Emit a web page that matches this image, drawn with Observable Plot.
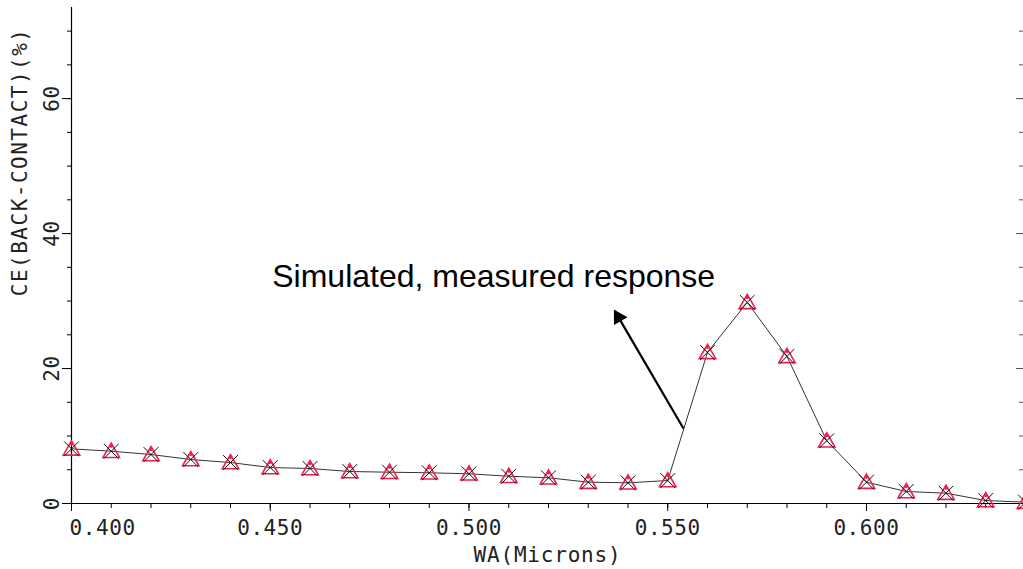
<!DOCTYPE html>
<html><head><meta charset="utf-8">
<script src="https://cdn.jsdelivr.net/npm/d3@7"></script>
<script src="https://cdn.jsdelivr.net/npm/@observablehq/plot@0.6"></script>
<style>
body{margin:0;background:#fff;overflow:hidden}
text[aria-label="xlabel"]{letter-spacing:0.6px}
text[aria-label="ylabel"]{letter-spacing:0.6px}
text[aria-label="xtitle"]{letter-spacing:0.8px}
text[aria-label="ytitle"]{letter-spacing:1.5px}
</style>
</head><body><div id="chart"></div>
<script>
const wavelength = [0.40,0.41,0.42,0.43,0.44,0.45,0.46,0.47,0.48,0.49,0.50,0.51,0.52,0.53,0.54,0.55,0.56,0.57,0.58,0.59,0.60,0.61,0.62,0.63,0.64];
const simulated = [8.1,7.75,7.26,6.52,6.07,5.33,5.19,4.74,4.64,4.55,4.4,4.04,3.81,3.16,3.07,3.4,22.4,29.8,21.8,9.3,3.16,1.78,1.53,0.44,0.2];
const measured  = [8.1,7.75,7.26,6.52,6.07,5.33,5.19,4.74,4.64,4.55,4.4,4.04,3.81,3.16,3.07,3.4,22.4,29.8,21.8,9.3,3.16,1.78,1.53,0.44,0.2];
const xMajorTicks = [0.40,0.45,0.50,0.55,0.60];
const xMinorTicks = wavelength;
const yMajorTicks = [0,20,40,60];
const yMinorTicks = [0,5,10,15,20,25,30,35,40,45,50,55,60,65,70];
const xTitle = ["WA(Microns)"];
const yTitle = ["CE(BACK-CONTACT)(%)"];
const annotation = [{x:0.4505, y:33.6, text:"Simulated, measured response"}];
const arrowLine = [{x1:0.55396, y1:11.11, x2:0.5378, y2:27.4}];
const arrowHead = [{x:0.5376, y:27.6}];

const simData = wavelength.map((w,i)=>({w, v: simulated[i]}));
const measData = wavelength.map((w,i)=>({w, v: measured[i]}));
const mono = "DejaVu Sans Mono";
const fmt = d3.format(".3f");
const firstXLabel = xMajorTicks.slice(0,1);
const otherXLabels = xMajorTicks.slice(1);

const chart = Plot.plot({
  width: 1023, height: 569,
  marginLeft: 71, marginRight: 0, marginTop: 7, marginBottom: 66,
  style: {background:"#fff", color:"#000", fontFamily: mono, overflow:"hidden"},
  x: {domain:[0.4, 0.6395]},
  y: {domain:[0, 73.5]},
  marks: [
    Plot.axisX(xMinorTicks, {tickSize:5, tickFormat:()=>"", label:null}),
    Plot.axisX(xMajorTicks, {tickSize:8, tickFormat:()=>"", label:null}),
    Plot.text(firstXLabel, {x:d=>d, text:d=>fmt(d), frameAnchor:"bottom", dy:25, textAnchor:"start", dx:-2, lineAnchor:"middle", fontSize:21, fontFamily:mono, fill:"#222", ariaLabel:()=>"xlabel"}),
    Plot.text(otherXLabels, {x:d=>d, text:d=>fmt(d), frameAnchor:"bottom", dy:25, textAnchor:"middle", lineAnchor:"middle", fontSize:21, fontFamily:mono, fill:"#222", ariaLabel:()=>"xlabel"}),
    Plot.axisY(yMinorTicks, {tickSize:4, tickFormat:()=>"", label:null}),
    Plot.axisY(yMajorTicks, {tickSize:9, tickFormat:()=>"", label:null}),
    Plot.axisY(yMinorTicks, {anchor:"right", tickSize:-5, tickFormat:()=>"", label:null, stroke:"#555"}),
    Plot.axisY(yMajorTicks, {anchor:"right", tickSize:-8, tickFormat:()=>"", label:null, stroke:"#555"}),
    Plot.text(yMajorTicks, {y:d=>d, text:d=>String(d), frameAnchor:"left", dx:-19.5, rotate:-90, textAnchor:"middle", lineAnchor:"middle", fontSize:21, fontFamily:mono, fill:"#222", ariaLabel:()=>"ylabel"}),
    Plot.text(xTitle, {text:d=>d, frameAnchor:"bottom", dy:52, lineAnchor:"middle", fontSize:21, fontFamily:mono, fill:"#222", ariaLabel:()=>"xtitle"}),
    Plot.text(yTitle, {text:d=>d, frameAnchor:"top-left", dx:-51, dy:20, rotate:-90, textAnchor:"end", lineAnchor:"middle", fontSize:21, fontFamily:mono, fill:"#222", ariaLabel:()=>"ytitle"}),
    Plot.ruleY([0], {stroke:"#000", strokeWidth:1.2}),
    Plot.ruleX([0.4], {stroke:"#000", strokeWidth:1.2}),
    Plot.line(simData, {x:"w", y:"v", stroke:"#333", strokeWidth:1}),
    Plot.dot(measData, {x:"w", y:"v", symbol:"triangle", r:6.1, stroke:"#ee1f4f", strokeWidth:1.6, fill:"none", dy:1.5}),
    Plot.dot(simData, {x:"w", y:"v", symbol:"times", r:6.8, stroke:"#111", strokeWidth:1}),
    Plot.dot(measData, {x:"w", y:"v", r:1.6, fill:"#ee1f4f", dy:-5}),
    Plot.link(arrowLine, {x1:"x1", y1:"y1", x2:"x2", y2:"y2", stroke:"#000", strokeWidth:2.2}),
    Plot.dot(arrowHead, {x:"x", y:"y", symbol:"triangle", r:5.8, fill:"#000", rotate:-30.5}),
    Plot.text(annotation, {x:"x", y:"y", text:"text", textAnchor:"start", lineAnchor:"middle", fontSize:32, fontFamily:"Liberation Sans", fill:"#000"})
  ]
});
document.getElementById("chart").appendChild(chart);
</script>
</body></html>
